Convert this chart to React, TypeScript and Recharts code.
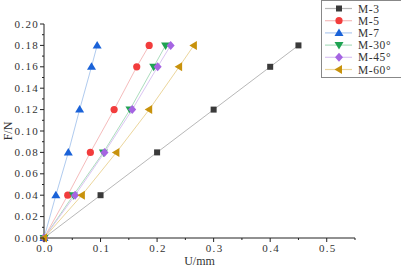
import React from "react";
import { ScatterChart, Scatter, XAxis, YAxis } from "recharts";

// force levels (F/N) shared by every specimen
const forceN = [0, 0.04, 0.08, 0.12, 0.16, 0.18];

// displacement U/mm read per specimen
const dispM3 = [0, 0.1, 0.2, 0.3, 0.4, 0.45];
const dispM5 = [0, 0.042, 0.082, 0.124, 0.164, 0.186];
const dispM7 = [0, 0.021, 0.043, 0.063, 0.084, 0.094];
const dispM30 = [0, 0.052, 0.105, 0.152, 0.194, 0.215];
const dispM45 = [0, 0.055, 0.107, 0.156, 0.201, 0.224];
const dispM60 = [0, 0.067, 0.128, 0.186, 0.239, 0.265];

const seriesNames = ["M-3", "M-5", "M-7", "M-30°", "M-45°", "M-60°"];

const xTicks = [0, 0.05, 0.1, 0.15, 0.2, 0.25, 0.3, 0.35, 0.4, 0.45, 0.5, 0.55];
const yTicks = [
  0, 0.01, 0.02, 0.03, 0.04, 0.05, 0.06, 0.07, 0.08, 0.09, 0.1, 0.11, 0.12,
  0.13, 0.14, 0.15, 0.16, 0.17, 0.18, 0.19, 0.2,
];

type Kind = "square" | "circle" | "up" | "down" | "diamond" | "left";

const styles: { kind: Kind; color: string; line: string }[] = [
  { kind: "square", color: "#3a3a3a", line: "#b8b8b8" },
  { kind: "circle", color: "#f23c3c", line: "#f5bcbc" },
  { kind: "up", color: "#1a62d8", line: "#b0cbef" },
  { kind: "down", color: "#1ea352", line: "#acddbe" },
  { kind: "diamond", color: "#a564e2", line: "#dbc5f3" },
  { kind: "left", color: "#c8920c", line: "#ecd69c" },
];

const toPoints = (disp: number[]) => disp.map((u, i) => ({ u, f: forceN[i] }));

const series = [dispM3, dispM5, dispM7, dispM30, dispM45, dispM60].map((d, i) => ({
  name: seriesNames[i],
  data: toPoints(d),
  ...styles[i],
}));

const FONT = "Liberation Serif";

const Marker = ({ cx, cy, kind, color }: { cx: number; cy: number; kind: Kind; color: string }) => {
  switch (kind) {
    case "square":
      return <rect x={cx - 3} y={cy - 3} width={6} height={6} fill={color} />;
    case "circle":
      return <circle cx={cx} cy={cy} r={3.6} fill={color} />;
    case "up":
      return <polygon points={`${cx},${cy - 4.5} ${cx + 4.5},${cy + 3} ${cx - 4.5},${cy + 3}`} fill={color} />;
    case "down":
      return <polygon points={`${cx},${cy + 4.5} ${cx + 4.5},${cy - 3} ${cx - 4.5},${cy - 3}`} fill={color} />;
    case "diamond":
      return <polygon points={`${cx},${cy - 4.5} ${cx + 4},${cy} ${cx},${cy + 4.5} ${cx - 4},${cy}`} fill={color} />;
    default:
      return <polygon points={`${cx - 4.5},${cy} ${cx + 3},${cy - 4.5} ${cx + 3},${cy + 4.5}`} fill={color} />;
  }
};

const isMajorY = (v: number) => Math.round(v * 100) % 2 === 0;
const isMajorX = (v: number) => Math.round(v * 100) % 10 === 0;

const YTick = (props: any) => {
  const { x, y, payload } = props;
  const major = isMajorY(payload.value);
  return (
    <g>
      <line x1={x - (major ? 4 : 2)} x2={x} y1={y} y2={y} stroke="#222" />
      {major && (
        <text x={x - 5} y={y + 3.5} textAnchor="end" fontSize={11} letterSpacing={1.3} fontFamily={FONT} fill="#333">
          {payload.value.toFixed(2)}
        </text>
      )}
    </g>
  );
};

const XTick = (props: any) => {
  const { x, y, payload } = props;
  const major = isMajorX(payload.value);
  return (
    <g>
      <line x1={x} x2={x} y1={y} y2={y + (major ? 4 : 2)} stroke="#222" />
      {major && (
        <text x={x + 1} y={y + 14} textAnchor="middle" fontSize={11} letterSpacing={1.3} fontFamily={FONT} fill="#333">
          {payload.value.toFixed(1)}
        </text>
      )}
    </g>
  );
};

const LegendBox = () => (
  <svg width={80} height={80} style={{ display: "block" }}>
    <rect x={0.5} y={0.5} width={100} height={77} fill="#fff" stroke="#888" />
    {series.map((s, i) => {
      const cy = 8.5 + i * 12.2;
      return (
        <g key={s.name}>
          <line x1={4} x2={31} y1={cy} y2={cy} stroke={s.line} strokeWidth={1.2} />
          <Marker cx={18} cy={cy} kind={s.kind} color={s.color} />
          <text x={37} y={cy + 4} fontSize={11.5} letterSpacing={0.6} fontFamily={FONT} fill="#333">
            {s.name}
          </text>
        </g>
      );
    })}
  </svg>
);

export default function App() {
  return (
    <div style={{ position: "absolute", left: 0, top: 0, width: 401, height: 269, background: "#fff" }}>
      <ScatterChart width={401} height={269} margin={{ top: 24, right: 46, left: 0, bottom: 0 }}>
        <XAxis
          type="number"
          dataKey="u"
          domain={[0, 0.55]}
          ticks={xTicks}
          interval={0}
          height={31}
          tickSize={0}
          tickMargin={0}
          tick={<XTick />}
          stroke="#222"
          label={{
            content: (p: any) => (
              <text
                x={p.viewBox.x + p.viewBox.width / 2}
                y={265}
                textAnchor="middle"
                fontSize={12}
                fontFamily={FONT}
                fill="#333"
              >
                U/mm
              </text>
            ),
          }}
        />
        <YAxis
          type="number"
          dataKey="f"
          domain={[0, 0.2]}
          ticks={yTicks}
          interval={0}
          width={44}
          tickSize={0}
          tickMargin={0}
          tick={<YTick />}
          stroke="#222"
          label={{
            content: (p: any) => {
              const cy = p.viewBox.y + p.viewBox.height / 2;
              return (
                <text
                  x={8}
                  y={cy}
                  transform={`rotate(-90 8 ${cy})`}
                  textAnchor="middle"
                  dominantBaseline="central"
                  fontSize={12}
                  fontFamily={FONT}
                  fill="#333"
                >
                  F/N
                </text>
              );
            },
          }}
        />
        {series.map((s) => (
          <Scatter
            key={s.name}
            name={s.name}
            data={s.data}
            line={{ stroke: s.line, strokeWidth: 1 }}
            lineType="joint"
            isAnimationActive={false}
            shape={(p: any) => <Marker cx={p.cx} cy={p.cy} kind={s.kind} color={s.color} />}
          />
        ))}
      </ScatterChart>
      <div style={{ position: "absolute", left: 321, top: 0 }}>
        <LegendBox />
      </div>
    </div>
  );
}
